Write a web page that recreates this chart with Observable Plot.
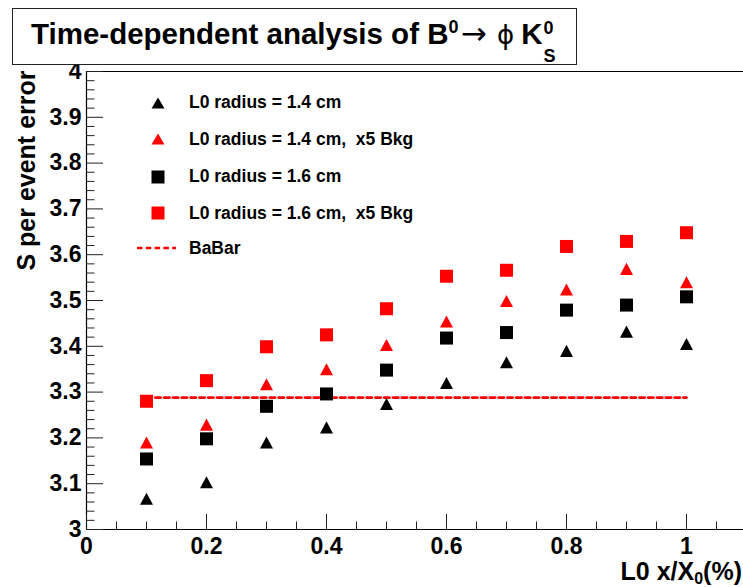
<!DOCTYPE html>
<html>
<head>
<meta charset="utf-8">
<script src="https://cdn.jsdelivr.net/npm/d3@7"></script>
<script src="https://cdn.jsdelivr.net/npm/@observablehq/plot@0.6"></script>
<style>
  body { margin: 0; background: #fff; }
  #wrap { position: relative; width: 743px; height: 587px; overflow: hidden; background: #fff;
          font-family: "Liberation Sans", Arial, Helvetica, sans-serif; font-weight: bold; color: #000; }
  #chart { position: absolute; left: 0; top: 0; }
  #titlebox { position: absolute; left: 12px; top: 8px; width: 565px; height: 57px; box-sizing: border-box;
              border: 1.5px solid #222; background: #fff; }
  #title { position: absolute; left: 31px; top: 19px; font-size: 29.5px; line-height: 28px; white-space: pre; }
  #title .sup { font-size: 18px; position: relative; top: -11px; }
  #title .arrow { font-family: "DejaVu Sans", sans-serif; font-weight: normal; font-size: 31px; }
  #title .phi { font-family: "DejaVu Sans", sans-serif; font-weight: normal; font-size: 26px; }
  #title .stack { display: inline-block; position: relative; width: 14px; height: 0; }
  #title .stack span { position: absolute; left: 1px; font-size: 18px; line-height: 18px; }
  #legend { position: absolute; left: 0; top: 0; }
  .lrow { position: absolute; left: 130px; height: 24px; display: flex; align-items: center; font-size: 17.5px; white-space: pre; }
  .lrow svg { width: 48px; height: 24px; margin-right: 11px; }
  #xlabel { position: absolute; right: 1px; top: 559px; font-size: 25px; line-height: 25px; white-space: nowrap; }
  #xlabel sub { font-size: 16px; vertical-align: -4px; }
</style>
</head>
<body>
<div id="wrap">
  <div id="chart"></div>
  <div id="titlebox"></div>
  <div id="title">Time-dependent analysis of B<span class="sup">0</span><span style="word-spacing:-6px"> </span><span class="arrow">→</span><span style="word-spacing:2px"> </span><span class="phi">ϕ</span><span style="word-spacing:-1px"> </span>K<span class="stack"><span style="top:-25px">0</span><span style="top:3px">S</span></span></div>
  <div id="legend"></div>
  <div id="xlabel">L0 x/X<sub>0</sub>(%)</div>
</div>
<script>
// ---- data ----
const xValues = [0.1, 0.2, 0.3, 0.4, 0.5, 0.6, 0.7, 0.8, 0.9, 1.0];
const radius14      = [3.067, 3.103, 3.190, 3.223, 3.274, 3.320, 3.365, 3.390, 3.432, 3.405];
const radius14Bkg5  = [3.190, 3.229, 3.317, 3.350, 3.403, 3.454, 3.499, 3.524, 3.569, 3.540];
const radius16      = [3.154, 3.198, 3.269, 3.296, 3.348, 3.418, 3.430, 3.479, 3.490, 3.508];
const radius16Bkg5  = [3.280, 3.325, 3.399, 3.425, 3.482, 3.553, 3.566, 3.618, 3.629, 3.648];
const babarValue = 3.288;
const babarRange = [0.1, 1.0];

const seriesNames  = ["L0 radius = 1.4 cm", "L0 radius = 1.4 cm,  x5 Bkg", "L0 radius = 1.6 cm", "L0 radius = 1.6 cm,  x5 Bkg"];
const seriesColors = ["black", "red", "black", "red"];
const seriesShapes = ["triangle", "triangle", "square", "square"];
const seriesValues = [radius14, radius14Bkg5, radius16, radius16Bkg5];
const babarName = "BaBar";

const xTicks = [0, 0.2, 0.4, 0.6, 0.8, 1];
const xTickLabels = ["0", "0.2", "0.4", "0.6", "0.8", "1"];
const yTicks = [3, 3.1, 3.2, 3.3, 3.4, 3.5, 3.6, 3.7, 3.8, 3.9, 4];
const yTickLabels = ["3", "3.1", "3.2", "3.3", "3.4", "3.5", "3.6", "3.7", "3.8", "3.9", "4"];
const yTitle = "S per event error";

// ---- build tables ----
const points = [];
seriesValues.forEach((vals, s) => vals.forEach((v, i) => points.push({
  series: seriesNames[s], x: xValues[i], y: v, color: seriesColors[s], shape: seriesShapes[s]
})));
const babarLine = babarRange.map(x => ({x, y: babarValue}));

const xMinor = d3.range(0, 1.1, 0.05).filter(v => !xTicks.some(t => Math.abs(t - v) < 1e-6));
const yMinor = d3.range(3, 4.0001, 0.02).filter(v => !yTicks.some(t => Math.abs(t - v) < 1e-6));
const fmt = (ticks, labels) => d => labels[ticks.findIndex(t => Math.abs(t - d) < 1e-9)];

// ROOT-like triangle: centred on its bounding box
const triUp = { draw(ctx, size) { const r = Math.sqrt(size / Math.PI); const h = r * 0.93;
  ctx.moveTo(0, -h); ctx.lineTo(r, h); ctx.lineTo(-r, h); ctx.closePath(); } };
const squareSym = { draw(ctx, size) { const r = Math.sqrt(size / Math.PI);
  ctx.rect(-r, -r, 2 * r, 2 * r); } };

const frameW = 1.2;
const chart = Plot.plot({
  width: 743, height: 587,
  marginLeft: 86, marginRight: 0, marginTop: 71, marginBottom: 58,
  x: {domain: [0, 1.095]},
  y: {domain: [3, 4]},
  style: {fontFamily: "Liberation Sans, Arial, Helvetica, sans-serif", fontWeight: "bold", background: "transparent", overflow: "visible"},
  marks: [
    // frame
    Plot.ruleX([0], {y1: 3, y2: 4, stroke: "black", strokeWidth: frameW}),
    Plot.ruleY([3, 4], {stroke: "black", strokeWidth: frameW}),
    // inward ticks
    Plot.ruleY(yTicks, {y: d => d, x1: 0, x2: 0, insetRight: -17, stroke: "#222", strokeWidth: 1}),
    Plot.ruleY(yMinor, {y: d => d, x1: 0, x2: 0, insetRight: -8.5, stroke: "#222", strokeWidth: 1}),
    Plot.ruleX(xTicks, {x: d => d, y1: 3, y2: 3, insetTop: -15, stroke: "#222", strokeWidth: 1}),
    Plot.ruleX(xMinor, {x: d => d, y1: 3, y2: 3, insetTop: -7.5, stroke: "#222", strokeWidth: 1}),
    // axes labels
    Plot.axisY({ticks: yTicks, tickFormat: fmt(yTicks, yTickLabels), tickSize: 0, tickPadding: 5, fontSize: 23, fontWeight: "bold", label: null}),
    Plot.axisX({ticks: xTicks, tickFormat: fmt(xTicks, xTickLabels), tickSize: 0, tickPadding: 8, fontSize: 23, fontWeight: "bold", label: null}),
    Plot.text([yTitle], {frameAnchor: "top-left", text: d => d, rotate: -90, textAnchor: "end", dx: -69, dy: -1, fontSize: 25, fontWeight: "bold"}),
    // BaBar reference
    Plot.line(babarLine, {x: "x", y: "y", stroke: "red", strokeWidth: 2.6, strokeDasharray: "5.5,3.3"}),
    // data
    Plot.dot(points.filter(d => d.shape === "triangle"), {x: "x", y: "y", fill: "color", symbol: () => triUp, r: 6.5}),
    Plot.dot(points.filter(d => d.shape === "square"), {x: "x", y: "y", fill: "color", symbol: () => squareSym, r: 6.5})
  ]
});
document.getElementById("chart").appendChild(chart);

// ---- legend ----
const legend = document.getElementById("legend");
const rowCenters = [102.7, 139.3, 176.5, 213, 248.3];
const legendItems = seriesNames.map((n, i) => ({name: n, color: seriesColors[i], shape: seriesShapes[i]}))
  .concat([{name: babarName, color: "red", shape: "dash"}]);
legendItems.forEach((it, i) => {
  const row = document.createElement("div");
  row.className = "lrow";
  row.style.top = (rowCenters[i] - 12) + "px";
  let glyph;
  if (it.shape === "triangle") glyph = `<polygon points="28,6.5 34.5,17.5 21.5,17.5" fill="${it.color}"/>`;
  else if (it.shape === "square") glyph = `<rect x="21.5" y="5.5" width="13" height="13" fill="${it.color}"/>`;
  else glyph = `<line x1="7" y1="12" x2="46" y2="12" stroke="${it.color}" stroke-width="2.6" stroke-dasharray="5.5,3.3"/>`;
  row.innerHTML = `<svg viewBox="0 0 48 24">${glyph}</svg><span>${it.name}</span>`;
  legend.appendChild(row);
});
</script>
</body>
</html>
